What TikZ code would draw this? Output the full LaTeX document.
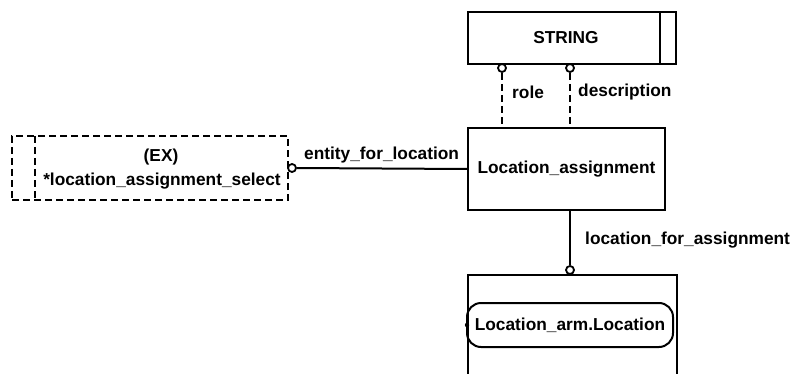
\documentclass[tikz,border=0pt]{standalone}
\usepackage{fontspec}
\setmainfont{Liberation Sans}
\begin{document}
\begin{tikzpicture}[x=1pt,y=-1pt,
  every node/.style={font=\fontsize{17.3}{19}\selectfont\bfseries},
  ent/.style={draw,line width=2pt,inner sep=0pt},
  opt/.style={draw,circle,line width=1.8pt,inner sep=0pt,minimum size=8pt,fill=white},
  rel/.style={line width=2pt},
  dsh/.style={dash pattern=on 7pt off 4pt},
  lbl/.style={inner sep=0pt,anchor=west}]
\useasboundingbox (0,0) rectangle (794,374);
% STRING
\node[ent,minimum width=208pt,minimum height=52pt] (str) at (572,38) {};
\node (strt) at (566,38) {STRING};
\draw[line width=2pt] (660,12) -- (660,64);
% Location_assignment
\node[ent,minimum width=197pt,minimum height=82pt] (la) at (566.5,169) {Location\_assignment};
% select box
\node[ent,dsh,minimum width=276pt,minimum height=64pt] (sel) at (150,168) {};
\draw[line width=2pt,dsh] (35,136) -- (35,200);
\node (ex) at (161,157) {(EX)};
\node (selt) at (162,181) {*location\_assignment\_select};
% bottom box
\draw[line width=2pt] (468,376) -- (468,275) -- (677,275) -- (677,376);
\node[draw,line width=2pt,rounded corners=14pt,minimum width=206pt,minimum height=44pt] (loc) at (570,325) {Location\_arm.Location};
\fill (467,325) circle (2.2pt);
% role / description
\node[opt] (c1) at (502,68) {};
\node[opt] (c2) at (570,68) {};
\draw[rel,dsh] (c1.south) -- (c1.south |- la.north);
\draw[rel,dsh] (c2.south) -- (c2.south |- la.north);
\node[lbl] (role) at (512,92) {role};
\node[lbl] (desc) at (578,92) {description};
% entity_for_location
\node[opt] (c3) at (292,168) {};
\draw[rel] (c3.east) -- (la.west);
\node[lbl] (efl) at (304,155) {entity\_for\_location};
% location_for_assignment
\node[opt] (c4) at (570,270) {};
\draw[rel] (c4.north) -- (c4.north |- la.south);
\node[lbl] (lfa) at (585,240) {location\_for\_assignment};
\end{tikzpicture}
\end{document}
